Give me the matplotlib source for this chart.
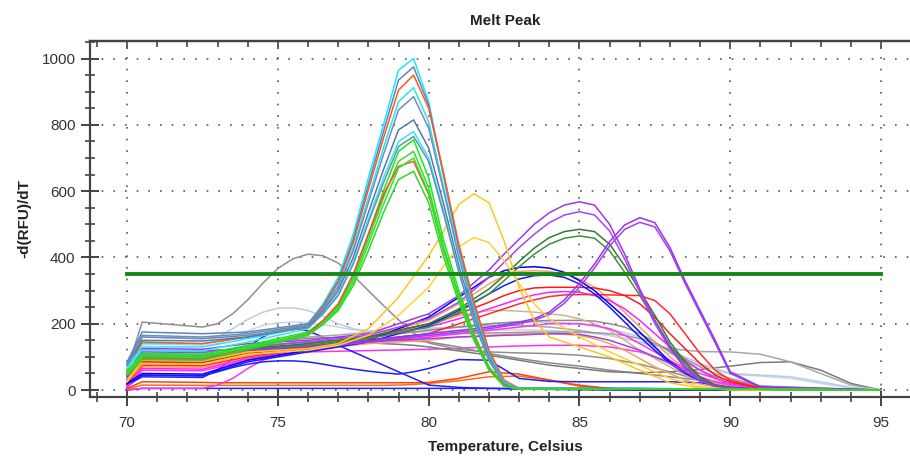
import matplotlib
matplotlib.use("Agg")
import matplotlib.pyplot as plt
from matplotlib.ticker import MultipleLocator

plt.rcParams['font.family'] = ['Liberation Sans', 'DejaVu Sans']

# main product peak, ~79.4 C
peak_temps = [70, 70.5, 72.5, 74, 76, 76.5, 77, 77.5, 78, 78.5, 79, 79.5,
              80, 80.5, 81, 81.5, 82, 82.5, 83, 90, 95]
peak_curves = [
    [80, 140, 140, 160, 200, 260, 340, 470, 640, 800, 965, 1000, 870, 640, 420, 250, 110, 25, 5, 3, 0],
    [85, 175, 170, 175, 200, 255, 330, 455, 620, 780, 935, 975, 860, 650, 430, 260, 115, 25, 5, 3, 0],
    [60, 145, 140, 160, 195, 250, 325, 445, 605, 760, 905, 950, 850, 650, 440, 265, 120, 30, 5, 3, 0],
    [70, 130, 130, 155, 190, 245, 315, 430, 580, 730, 870, 912, 810, 610, 410, 240, 105, 25, 5, 3, 0],
    [80, 165, 160, 170, 195, 245, 310, 420, 565, 710, 845, 885, 790, 600, 400, 235, 100, 22, 5, 3, 0],
    [75, 150, 148, 160, 190, 238, 300, 400, 535, 665, 785, 815, 730, 560, 375, 220, 95, 20, 4, 3, 0],
    [65, 120, 118, 145, 185, 232, 290, 385, 515, 640, 750, 780, 700, 540, 360, 210, 90, 20, 4, 3, 0],
    [78, 160, 155, 165, 188, 230, 285, 380, 505, 625, 735, 765, 690, 530, 355, 205, 88, 18, 4, 3, 0],
    [55, 110, 108, 135, 175, 210, 255, 345, 470, 600, 720, 755, 640, 450, 300, 170, 70, 15, 3, 3, 0],
    [50, 105, 103, 130, 170, 205, 250, 335, 455, 580, 690, 720, 610, 430, 285, 160, 65, 12, 3, 3, 0],
    [45, 95, 92, 125, 170, 210, 260, 350, 470, 590, 675, 690, 590, 420, 280, 160, 65, 15, 3, 3, 0],
    [48, 100, 98, 128, 168, 200, 245, 325, 440, 560, 670, 700, 595, 420, 280, 155, 62, 12, 3, 3, 0],
    [45, 92, 90, 122, 165, 198, 240, 315, 420, 535, 635, 660, 565, 400, 265, 150, 60, 12, 3, 3, 0],
]
peak_colors = ['#19e8ff', '#5d86b8', '#ff5522', '#2ee0f0', '#6a8fc0', '#5579a8', '#30e8f8',
               '#6b8cb5', '#10f010', '#38d838', '#ff4a2a', '#22ee22', '#2cd82c']

# secondary peak, ~81.5 C
yellow_temps = [70, 70.5, 72.5, 74, 76, 77, 78, 79, 80, 80.5, 81, 81.5,
                82, 82.5, 83, 83.5, 84, 85, 86, 87, 88, 89, 90, 95]
yellow_curves = [
    [30, 90, 88, 115, 125, 140, 185, 280, 405, 480, 560, 592, 565, 450, 310, 210, 160, 130, 100, 60, 22, 6, 0, 0],
    [25, 80, 78, 108, 120, 135, 165, 225, 310, 375, 432, 460, 445, 390, 320, 260, 215, 160, 115, 75, 35, 10, 2, 0],
]
yellow_colors = ['#ffc61a', '#ffd030']

# late-melting products, 83-88 C
late_temps = [70, 70.5, 72.5, 74, 76, 78, 80, 81, 82, 82.5, 83, 83.5, 84, 84.5,
              85, 85.5, 86, 86.5, 87, 87.5, 88, 88.5, 89, 89.5, 90, 91, 95]
late_curves = [
    [28, 90, 88, 115, 135, 150, 165, 170, 172, 173, 174, 175, 175, 175, 175, 173, 170, 165, 155, 140, 120, 95, 70, 50, 35, 12, 0],
    [30, 95, 93, 120, 140, 160, 180, 190, 200, 203, 206, 208, 210, 210, 210, 208, 200, 190, 170, 145, 115, 85, 60, 40, 28, 10, 0],
    [20, 85, 83, 110, 135, 160, 195, 225, 240, 240, 238, 235, 230, 225, 215, 200, 180, 150, 120, 95, 70, 45, 28, 15, 8, 2, 0],
    [12, 70, 68, 95, 120, 140, 150, 160, 165, 168, 170, 170, 170, 168, 165, 155, 140, 120, 95, 70, 50, 30, 18, 10, 5, 0, 0],
    [15, 80, 78, 105, 130, 160, 210, 260, 320, 345, 358, 360, 358, 350, 335, 310, 275, 235, 190, 145, 100, 65, 38, 20, 10, 2, 0],
    [8, 60, 58, 90, 120, 145, 160, 170, 180, 185, 190, 195, 200, 200, 200, 195, 185, 165, 140, 115, 90, 62, 40, 25, 15, 3, 0],
    [10, 65, 63, 95, 125, 160, 190, 215, 245, 260, 275, 287, 295, 297, 295, 285, 270, 245, 210, 170, 130, 90, 60, 35, 20, 5, 0],
    [18, 75, 73, 100, 125, 150, 170, 200, 230, 245, 260, 272, 282, 287, 288, 288, 287, 286, 285, 270, 230, 170, 110, 60, 30, 5, 0],
    [20, 85, 83, 110, 130, 160, 200, 230, 265, 285, 300, 308, 310, 310, 310, 308, 300, 285, 260, 220, 170, 125, 80, 45, 25, 5, 0],
    [18, 45, 43, 85, 115, 145, 195, 240, 290, 315, 335, 345, 347, 340, 320, 290, 250, 205, 160, 120, 80, 50, 28, 13, 6, 1, 0],
    [20, 50, 48, 90, 120, 150, 220, 280, 340, 360, 370, 372, 368, 355, 330, 300, 260, 220, 175, 130, 85, 55, 30, 15, 8, 2, 0],
    [30, 120, 118, 125, 135, 145, 155, 160, 163, 165, 166, 168, 170, 170, 168, 160, 150, 135, 120, 100, 80, 55, 30, 15, 7, 2, 0],
    [42, 100, 98, 120, 135, 155, 190, 235, 290, 330, 372, 410, 440, 458, 465, 458, 420, 355, 285, 210, 135, 78, 36, 14, 5, 0, 0],
    [45, 105, 103, 125, 140, 160, 200, 245, 305, 345, 388, 428, 460, 478, 485, 478, 440, 375, 300, 225, 145, 85, 40, 15, 6, 0, 0],
    [28, 95, 93, 115, 125, 145, 165, 175, 185, 192, 200, 210, 228, 262, 310, 368, 435, 485, 506, 492, 420, 322, 232, 142, 50, 8, 0],
    [30, 100, 98, 120, 130, 150, 170, 180, 190, 197, 205, 215, 235, 272, 322, 380, 448, 498, 520, 505, 430, 330, 240, 150, 55, 10, 0],
    [35, 115, 113, 130, 145, 165, 215, 265, 340, 385, 430, 470, 505, 528, 538, 528, 480, 395, 295, 200, 125, 65, 28, 10, 4, 0, 0],
    [40, 125, 123, 140, 150, 170, 230, 285, 362, 410, 455, 500, 535, 558, 568, 558, 500, 410, 305, 210, 130, 70, 30, 12, 5, 0, 0],
]
late_colors = ['#9a9a9a', '#8c8c8c', '#d2b48c', '#f4a460', '#f4a460', '#ff33ff',
               '#ff22ff', '#ff2a2a', '#ff1a1a', '#1a1aff', '#0000ff', '#a040e0',
               '#3f8f3f', '#2f7f2f', '#a040f0', '#9a30f0', '#a845f0', '#9f38ea']

# early-melting curves and low baselines
early_temps = [70, 70.5, 72.5, 73, 73.5, 74, 74.5, 75, 75.5, 76, 76.5, 77, 77.5, 78,
               78.5, 79, 79.5, 80, 81, 82, 83, 84, 85, 86, 87, 88, 89, 90, 91, 92,
               93, 94, 95]
early_curves = [
    [3, 15, 14, 14, 14, 14, 14, 14, 14, 14, 14, 14, 14, 14, 14, 15, 17, 20, 28, 40, 42, 30, 15, 5, 0, 0, 0, 0, 0, 0, 0, 0, 0],
    [5, 25, 23, 22, 22, 22, 22, 22, 22, 22, 22, 22, 22, 22, 22, 22, 22, 23, 35, 55, 48, 30, 12, 5, 0, 0, 0, 0, 0, 0, 0, 0, 0],
    [0, 5, 5, 5, 5, 5, 5, 5, 5, 5, 5, 5, 5, 5, 5, 5, 5, 5, 5, 5, 5, 5, 5, 5, 5, 4, 3, 1, 0, 0, 0, 0, 0],
    [0, 5, 5, 15, 35, 65, 90, 105, 112, 115, 116, 117, 118, 119, 120, 121, 122, 123, 126, 130, 133, 135, 135, 130, 115, 85, 50, 20, 8, 2, 0, 0, 0],
    [10, 45, 43, 55, 68, 78, 85, 88, 88, 85, 78, 70, 63, 57, 52, 48, 55, 65, 92, 90, 35, 26, 25, 25, 25, 25, 22, 5, 0, 0, 0, 0, 0],
    [15, 40, 38, 60, 95, 130, 160, 182, 188, 178, 160, 135, 115, 95, 75, 55, 35, 15, 8, 5, 3, 2, 1, 0, 0, 0, 0, 0, 0, 0, 0, 0, 0],
    [40, 105, 103, 108, 118, 128, 138, 146, 152, 156, 158, 158, 157, 155, 152, 150, 148, 145, 130, 110, 95, 82, 72, 60, 50, 40, 30, 20, 12, 7, 4, 2, 0],
    [45, 100, 98, 105, 115, 125, 132, 138, 142, 145, 146, 146, 145, 143, 140, 138, 135, 130, 118, 105, 90, 75, 65, 55, 52, 55, 62, 72, 83, 85, 60, 20, 0],
    [50, 110, 108, 112, 122, 132, 142, 150, 156, 160, 163, 166, 170, 174, 177, 180, 183, 185, 190, 195, 195, 190, 180, 165, 145, 125, 116, 115, 108, 85, 50, 15, 0],
    [35, 140, 135, 140, 158, 178, 195, 203, 205, 203, 197, 190, 182, 178, 176, 175, 175, 175, 178, 180, 182, 180, 175, 165, 145, 110, 75, 48, 42, 35, 20, 6, 0],
    [40, 160, 155, 160, 185, 213, 235, 247, 248, 240, 222, 200, 185, 178, 178, 180, 182, 185, 192, 200, 205, 205, 200, 185, 160, 120, 80, 50, 45, 40, 25, 8, 0],
    [60, 205, 190, 200, 230, 272, 322, 367, 396, 410, 405, 383, 345, 300, 255, 212, 172, 142, 122, 115, 112, 110, 105, 95, 78, 55, 30, 12, 3, 0, 0, 0, 0],
]
early_colors = ['#ff6a1a', '#ff4500', '#2222ff', '#ff33ee', '#1e1eff', '#2020ff',
                '#8a8a8a', '#7a7a7a', '#a8a8a8', '#c6d6ea', '#b8cce4', '#8f8f8f']

threshold = 350
threshold_range = [70, 95]

fig = plt.figure(figsize=(9.1, 4.57), dpi=100)
ax = fig.add_axes([90 / 910, 1 - 397 / 457, 820 / 910, 356 / 457])

for temps, curves, colors in [(early_temps, early_curves, early_colors),
                              (late_temps, late_curves, late_colors),
                              (yellow_temps, yellow_curves, yellow_colors),
                              (peak_temps, peak_curves, peak_colors)]:
    for vals, c in zip(curves, colors):
        ax.plot(temps, vals, color=c, lw=1.1, zorder=3)

ax.plot(threshold_range, [threshold, threshold], color='#1a861a', lw=2.8, zorder=5)

ax.set_xlim(68.77, 95.96)
ax.set_ylim(-21, 1053)

ax.xaxis.set_major_locator(MultipleLocator(5))
ax.xaxis.set_minor_locator(MultipleLocator(1))
ax.yaxis.set_major_locator(MultipleLocator(200))
ax.yaxis.set_minor_locator(MultipleLocator(50))

ax.grid(True, which='major', color='#555555', linestyle=(0, (1, 6)), lw=1.2, zorder=1)

for side in ['left', 'bottom', 'top']:
    ax.spines[side].set_color('#444444')
    ax.spines[side].set_linewidth(1.6)
ax.spines['right'].set_visible(False)

ax.tick_params(which='major', direction='inout', length=13, width=1.4, color='#444444',
               labelsize=11, labelcolor='#333333', pad=4)
ax.tick_params(which='minor', direction='inout', length=7, width=1.2, color='#444444')
ax.tick_params(axis='x', pad=7)

top = ax.secondary_xaxis('top')
top.xaxis.set_major_locator(MultipleLocator(5))
top.xaxis.set_minor_locator(MultipleLocator(1))
top.tick_params(which='major', direction='in', length=6, width=1.2, color='#444444', labeltop=False)
top.tick_params(which='minor', direction='in', length=4, width=1.2, color='#444444')
top.spines['top'].set_color('#444444')
top.spines['top'].set_linewidth(1.6)

ax.set_xlabel('Temperature, Celsius', fontsize=11, fontweight='bold', color='#222222')
ax.xaxis.set_label_coords(0.506, -0.12)
ax.set_ylabel('-d(RFU)/dT', fontsize=11, fontweight='bold', color='#222222')
ax.yaxis.set_label_coords(-0.072, 0.5)
fig.text(505 / 910, 1 - 21 / 457, 'Melt Peak', ha='center', va='center',
         fontsize=11, fontweight='bold', color='#222222')

fig.savefig('out.png', dpi=100)
